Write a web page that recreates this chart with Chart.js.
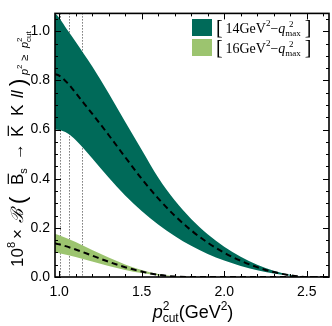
<!DOCTYPE html>
<html>
<head>
<meta charset="utf-8">
<script src="https://cdn.jsdelivr.net/npm/chart.js@4.4.1/dist/chart.umd.min.js"></script>
<style>
  html, body { margin: 0; padding: 0; background: #fff; }
  #wrap { width: 332px; height: 326px; }
</style>
</head>
<body>
<div id="wrap"><canvas id="c" width="332" height="326"></canvas></div>
<script>
// p^2_cut grid (GeV^2)
const xDark = [0.975, 1.0, 1.05, 1.1, 1.15, 1.2, 1.3, 1.4, 1.5, 1.6, 1.7, 1.8, 1.9, 2.0, 2.1, 2.2, 2.3, 2.4, 2.45, 2.5, 2.635];
// [14 GeV^2 - q^2_max]
const darkCentral = [0.826, 0.82, 0.79, 0.75, 0.707, 0.665, 0.578, 0.488, 0.400, 0.320, 0.250, 0.190, 0.140, 0.099, 0.066, 0.040, 0.020, 0.007, 0.0025, 0, 0];
const darkUpper   = [1.075, 1.055, 1.005, 0.958, 0.908, 0.858, 0.748, 0.632, 0.518, 0.405, 0.312, 0.236, 0.174, 0.123, 0.082, 0.050, 0.025, 0.009, 0.003, 0, 0];
const darkLower   = [0.600, 0.598, 0.585, 0.558, 0.522, 0.483, 0.405, 0.332, 0.269, 0.214, 0.167, 0.127, 0.094, 0.067, 0.045, 0.027, 0.014, 0.005, 0.0015, 0, 0];

const xLight = [0.975, 1.0, 1.1, 1.2, 1.3, 1.4, 1.5, 1.6, 1.7, 1.8, 2.635];
// [16 GeV^2 - q^2_max]
const lightCentral = [0.137, 0.133, 0.112, 0.087, 0.062, 0.040, 0.022, 0.009, 0.002, 0, 0];
const lightUpper   = [0.175, 0.170, 0.142, 0.110, 0.079, 0.051, 0.028, 0.012, 0.003, 0, 0];
const lightLower   = [0.100, 0.097, 0.081, 0.063, 0.045, 0.029, 0.016, 0.006, 0.001, 0, 0];

const dottedX = [1.005, 1.06, 1.14];
const xTicks = [1.0, 1.5, 2.0, 2.5];
const yTicks = [0.0, 0.2, 0.4, 0.6, 0.8, 1.0];

const DARK = '#006a59';
const LIGHT = '#9cc46f';

const pts = (xs, ys) => xs.map((x, i) => ({ x: x, y: ys[i] }));

function band(xs, ys, color, fill, order) {
  return {
    data: pts(xs, ys),
    borderWidth: 0,
    borderColor: color,
    backgroundColor: color,
    pointRadius: 0,
    cubicInterpolationMode: 'monotone',
    fill: fill,
    order: order
  };
}

function dashed(xs, ys) {
  return {
    data: pts(xs, ys),
    borderColor: '#000',
    borderWidth: 2,
    borderDash: [6, 4],
    pointRadius: 0,
    cubicInterpolationMode: 'monotone',
    fill: false,
    order: 0
  };
}

// draw a run of text pieces with sub/superscripts
function setFont(ctx, p) {
  ctx.font = (p.italic ? 'italic ' : '') + p.size + 'px ' + p.family;
}
function richWidth(ctx, pieces) {
  let w = 0;
  pieces.forEach(p => {
    setFont(ctx, p);
    if (p.adv !== false) w += ctx.measureText(p.t).width;
  });
  return w;
}
// p.at puts a piece at a fixed offset from the run start
function drawRich(ctx, pieces, x, y) {
  let cx = x;
  pieces.forEach(p => {
    setFont(ctx, p);
    if (p.at !== undefined) cx = x + p.at;
    const pw = ctx.measureText(p.t).width;
    ctx.fillText(p.t, cx, y + (p.dy || 0));
    if (p.over) {
      ctx.fillRect(cx + 1, y + (p.dy || 0) - p.size * 0.9, pw - 1, 1.2);
    }
    if (p.adv !== false) cx += pw;
  });
}

const SANS = '"Liberation Sans", Arial, sans-serif';
const SERIF = '"Liberation Serif", "Times New Roman", serif';

const yTitle = [
  { t: '10', size: 17, family: SANS, at: 0 },
  { t: '8', size: 11, family: SANS, dy: -8 },
  { t: '×', size: 17, family: SANS, at: 28 },
  { t: 'ℬ', size: 17, family: SERIF, italic: true, at: 44 },
  { t: '(', size: 22, family: SANS, dy: 2, at: 63 },
  { t: 'B', size: 17, family: SANS, over: true, at: 82 },
  { t: 's', size: 11, family: SANS, dy: 4 },
  { t: '→', size: 17, family: SANS, at: 107 },
  { t: 'K', size: 17, family: SANS, over: true, at: 130 },
  { t: 'K', size: 17, family: SANS, at: 151 },
  { t: 'll', size: 17, family: SANS, italic: true, at: 169 },
  { t: ')', size: 22, family: SANS, dy: 2, at: 181 },
  { t: 'p', size: 11, family: SANS, italic: true, dy: 5, at: 192 },
  { t: '2', size: 8, family: SANS, dy: -1 },
  { t: '≥', size: 11, family: SANS, dy: 5, at: 206 },
  { t: 'p', size: 11, family: SANS, italic: true, dy: 5, at: 219 },
  { t: '2', size: 8, family: SANS, dy: -1, adv: false },
  { t: 'cut', size: 8, family: SANS, dy: 8 }
];

const xTitle = [
  { t: 'p', size: 18, family: SANS, italic: true },
  { t: '2', size: 12, family: SANS, dy: -8, adv: false },
  { t: 'cut', size: 12, family: SANS, dy: 4 },
  { t: '(GeV', size: 18, family: SANS },
  { t: '2', size: 12, family: SANS, dy: -8 },
  { t: ')', size: 18, family: SANS }
];

const legendRows = [
  { color: DARK, num: '14' },
  { color: LIGHT, num: '16' }
];

const decor = {
  id: 'decor',
  beforeDatasetsDraw(chart) {
    const { ctx, chartArea: a, scales: { x } } = chart;
    ctx.save();
    ctx.strokeStyle = '#333';
    ctx.lineWidth = 1;
    ctx.setLineDash([1, 2]);
    dottedX.forEach(v => {
      const px = Math.round(x.getPixelForValue(v)) + 0.5;
      ctx.beginPath();
      ctx.moveTo(px, a.top);
      ctx.lineTo(px, a.bottom);
      ctx.stroke();
    });
    ctx.restore();
  },
  afterDraw(chart) {
    const { ctx, chartArea: a, scales: { x, y } } = chart;
    ctx.save();
    ctx.strokeStyle = '#000';
    ctx.lineWidth = 1;
    // inward ticks on all four sides
    const tick = (px, len, vertical) => {
      ctx.beginPath();
      if (vertical) {
        ctx.moveTo(px, a.bottom); ctx.lineTo(px, a.bottom - len);
        ctx.moveTo(px, a.top); ctx.lineTo(px, a.top + len);
      } else {
        ctx.moveTo(a.left, px); ctx.lineTo(a.left + len, px);
        ctx.moveTo(a.right, px); ctx.lineTo(a.right - len, px);
      }
      ctx.stroke();
    };
    for (let v = 1.0; v <= 2.6001; v += 0.1) {
      const major = Math.abs(v * 2 - Math.round(v * 2)) < 1e-6;
      tick(Math.round(x.getPixelForValue(v)) + 0.5, major ? 6 : 3, true);
    }
    for (let v = 0; v <= 1.0501; v += 0.05) {
      const major = Math.abs(v * 5 - Math.round(v * 5)) < 1e-6;
      tick(Math.round(y.getPixelForValue(v)) + 0.5, major ? 6 : 3, false);
    }
    // frame
    ctx.lineWidth = 1.6;
    ctx.strokeRect(a.left, a.top, a.right - a.left, a.bottom - a.top);

    // axis titles
    ctx.fillStyle = '#000';
    ctx.textBaseline = 'alphabetic';
    ctx.textAlign = 'left';
    const xw = richWidth(ctx, xTitle);
    drawRich(ctx, xTitle, 193 - xw / 2, 318);

    ctx.save();
    ctx.translate(23, 267);
    ctx.rotate(-Math.PI / 2);
    drawRich(ctx, yTitle, 0, 0);
    ctx.restore();

    // legend
    legendRows.forEach((r, i) => {
      const top = 19 + i * 20;
      ctx.fillStyle = r.color;
      ctx.fillRect(192, top, 20, 17);
      ctx.fillStyle = '#000';
      const base = top + 14;
      const row = [
        { t: '[', size: 20, family: SERIF, dy: 1 },
        { t: '\u2009' + r.num + 'GeV', size: 14, family: SERIF },
        { t: '2', size: 9, family: SERIF, dy: -7 },
        { t: '−', size: 14, family: SERIF },
        { t: 'q', size: 14, family: SERIF, italic: true },
        { t: '\u2009\u20092', size: 9, family: SERIF, dy: -6, adv: false },
        { t: 'max', size: 9, family: SERIF, dy: 3 },
        { t: '\u2009]', size: 20, family: SERIF, dy: 1 }
      ];
      drawRich(ctx, row, 216, base);
    });
    ctx.restore();
  }
};

new Chart(document.getElementById('c'), {
  type: 'line',
  data: {
    datasets: [
      band(xDark, darkUpper, DARK, '+1', 3),
      band(xDark, darkLower, DARK, false, 4),
      band(xLight, lightUpper, LIGHT, '+1', 1),
      band(xLight, lightLower, LIGHT, false, 2),
      dashed(xDark, darkCentral),
      dashed(xLight, lightCentral)
    ]
  },
  options: {
    responsive: false,
    animation: false,
    devicePixelRatio: 1,
    layout: { padding: { left: 0, right: 3, top: 2, bottom: 0 } },
    plugins: { legend: { display: false }, tooltip: { enabled: false } },
    scales: {
      x: {
        type: 'linear',
        min: 0.975,
        max: 2.635,
        grid: { display: false, drawTicks: false },
        border: { display: false },
        afterBuildTicks: s => { s.ticks = xTicks.map(v => ({ value: v })); },
        afterFit: s => { s.height = 49; },
        ticks: {
          color: '#000',
          padding: 7,
          font: { family: SANS, size: 14 },
          callback: v => v.toFixed(1)
        }
      },
      y: {
        type: 'linear',
        min: 0,
        max: 1.073,
        grid: { display: false, drawTicks: false },
        border: { display: false },
        afterBuildTicks: s => { s.ticks = yTicks.map(v => ({ value: v })); },
        afterFit: s => { s.width = 55; },
        ticks: {
          color: '#000',
          padding: 5,
          font: { family: SANS, size: 14 },
          callback: v => v.toFixed(1)
        }
      }
    }
  },
  plugins: [decor]
});
</script>
</body>
</html>
